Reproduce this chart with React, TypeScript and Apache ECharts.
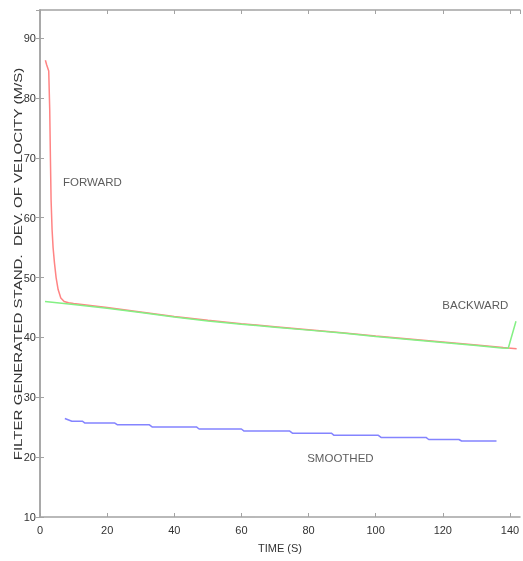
import React, { useEffect, useRef } from "react";
import * as echarts from "echarts";

// Forward filter estimate (time in s, std dev in m/s)
const forwardTime = [1.6, 2.0, 2.6, 2.9, 3.1, 3.3, 3.6, 3.9, 4.3, 4.8, 5.4, 6.2, 7.2, 8.5, 10, 20, 30, 40, 50, 60, 70, 80, 90, 100, 110, 120, 130, 138, 142];
const forwardStd = [86.3, 85.5, 84.5, 78, 70, 63, 58, 55, 52.5, 50, 48, 46.6, 46.0, 45.8, 45.65, 45.0, 44.25, 43.5, 42.85, 42.3, 41.8, 41.3, 40.8, 40.25, 39.75, 39.25, 38.75, 38.3, 38.1];

// Backward filter estimate
const backwardTime = [1.5, 10, 20, 30, 40, 50, 60, 70, 80, 90, 100, 110, 120, 130, 137.5, 139.5, 141.8];
const backwardStd = [46.0, 45.5, 44.88, 44.15, 43.4, 42.76, 42.22, 41.72, 41.22, 40.72, 40.17, 39.67, 39.17, 38.67, 38.25, 38.2, 42.7];

// Smoothed estimate (stepwise)
const smoothedTime = [7.4, 9.5, 12.6, 13.4, 22.3, 23.1, 32.6, 33.4, 46.6, 47.4, 60.0, 60.8, 74.4, 75.2, 86.8, 87.6, 100.8, 101.6, 115.0, 115.8, 124.8, 125.6, 136.0];
const smoothedStd = [26.45, 26.0, 26.0, 25.7, 25.7, 25.4, 25.4, 25.05, 25.05, 24.7, 24.7, 24.35, 24.35, 24.0, 24.0, 23.65, 23.65, 23.3, 23.3, 22.95, 22.95, 22.7, 22.7];

// Curve annotations placed in data coordinates
const labelNames = ["FORWARD", "BACKWARD", "SMOOTHED"];
const labelTime = [15.6, 129.7, 89.5];
const labelStd = [66.0, 45.4, 19.8];

const xTicks = { min: 0, max: 143, interval: 20 };
const yTicks = { min: 10, max: 94.7, interval: 10 };

const FONT = "'Liberation Sans', Arial, sans-serif";
const AXIS_COLOR = "#a3a3a3";
const TEXT_COLOR = "#333";

const RED = "#ff8484";
const GREEN = "#84f084";
const BLUE = "#8484ff";

function pairs(xs: number[], ys: number[]) {
  return xs.map((x, i) => [x, ys[i]]);
}

export default function App() {
  const ref = useRef<HTMLDivElement>(null);

  useEffect(() => {
    if (!ref.current) return;
    const chart = echarts.init(ref.current, undefined, { renderer: "svg" });

    const tick = { show: true, inside: true, length: 4, lineStyle: { color: AXIS_COLOR, width: 1 } };
    const line = { show: true, lineStyle: { color: AXIS_COLOR, width: 1.5 } };
    const label = { color: TEXT_COLOR, fontSize: 11, fontFamily: FONT };

    chart.setOption({
      animation: false,
      backgroundColor: "#fff",
      grid: { left: 40, right: 3, top: 10, bottom: 44 },
      xAxis: [
        {
          type: "value",
          ...xTicks,
          position: "bottom",
          axisLine: line,
          axisTick: tick,
          splitLine: { show: false },
          axisLabel: { ...label, margin: 7, showMaxLabel: false },
          name: "TIME (S)",
          nameLocation: "middle",
          nameGap: 25,
          nameTextStyle: { color: TEXT_COLOR, fontSize: 11, fontFamily: FONT },
        },
        {
          type: "value",
          ...xTicks,
          position: "top",
          axisLine: line,
          axisTick: tick,
          splitLine: { show: false },
          axisLabel: { show: false },
        },
      ],
      yAxis: [
        {
          type: "value",
          ...yTicks,
          position: "left",
          axisLine: line,
          axisTick: tick,
          splitLine: { show: false },
          axisLabel: { ...label, margin: 4, showMaxLabel: false },
        },
        {
          type: "value",
          ...yTicks,
          position: "right",
          axisLine: line,
          axisTick: tick,
          splitLine: { show: false },
          axisLabel: { show: false },
        },
      ],
      graphic: [
        {
          type: "text",
          x: 18,
          y: 264,
          rotation: Math.PI / 2,
          scaleX: 1.37,
          style: {
            text: "FILTER GENERATED STAND.  DEV. OF VELOCITY (M/S)",
            fill: TEXT_COLOR,
            font: `11px ${FONT}`,
            align: "center",
            verticalAlign: "middle",
          },
        },
      ],
      series: [
        {
          name: "FORWARD",
          type: "line",
          data: pairs(forwardTime, forwardStd),
          showSymbol: false,
          symbol: "none",
          lineStyle: { color: RED, width: 1.5 },
          z: 2,
        },
        {
          name: "BACKWARD",
          type: "line",
          data: pairs(backwardTime, backwardStd),
          showSymbol: false,
          symbol: "none",
          lineStyle: { color: GREEN, width: 1.5 },
          z: 3,
        },
        {
          name: "SMOOTHED",
          type: "line",
          data: pairs(smoothedTime, smoothedStd),
          showSymbol: false,
          symbol: "none",
          lineStyle: { color: BLUE, width: 1.5 },
          z: 2,
        },
        {
          name: "labels",
          type: "scatter",
          symbolSize: 0,
          silent: true,
          data: labelNames.map((n, i) => [labelTime[i], labelStd[i], n]),
          label: {
            show: true,
            position: "inside",
            formatter: (p: any) => p.value[2],
            color: TEXT_COLOR,
            fontSize: 11.5,
            fontFamily: FONT,
          },
          z: 5,
        },
      ],
    });

    // Overlapping forward/backward curves blend like ink
    const strokes = new Set([RED, GREEN].map((c) => c.toLowerCase()));
    ref.current.querySelectorAll("path").forEach((p) => {
      const s = (p.getAttribute("stroke") || "").toLowerCase();
      if (strokes.has(s)) (p as SVGElement).style.mixBlendMode = "multiply";
    });

    return () => chart.dispose();
  }, []);

  return (
    <div
      ref={ref}
      style={{ position: "fixed", left: 0, top: 0, width: 523, height: 561, background: "#fff" }}
    />
  );
}
